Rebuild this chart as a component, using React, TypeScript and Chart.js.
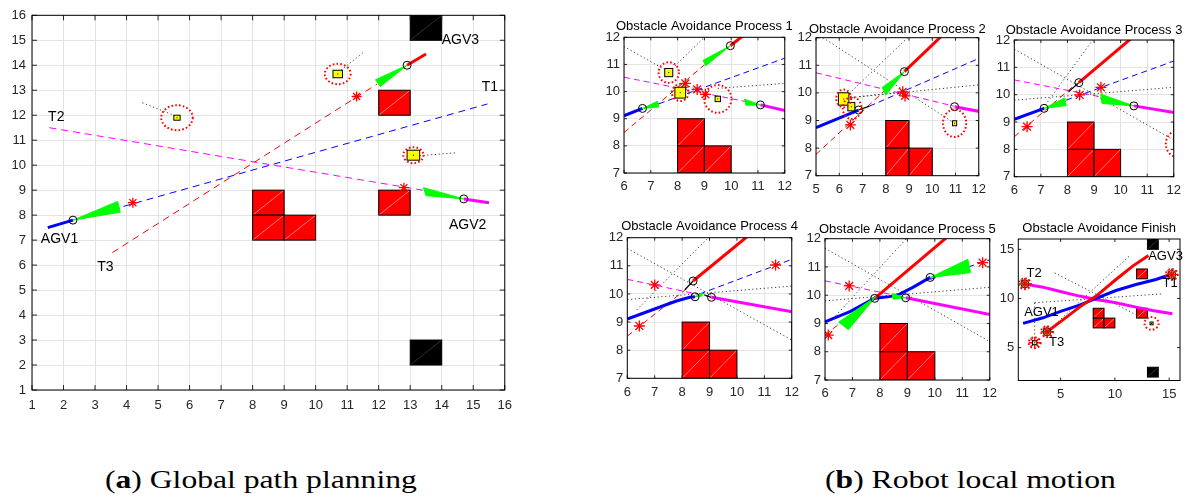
import React, { useEffect, useRef } from "react";
import { Chart, registerables } from "chart.js";

Chart.register(...registerables);

type Pt = [number, number];
type Seg = [number, number, number, number];
type Rect = [number, number, number, number];
type Tri = [Pt, Pt, Pt];
type Mover = [number, number, number];
type Ring = [number, number, number];
type Label = [string, number, number];

const FONT = '"Liberation Sans", Arial, sans-serif';

// ---------------- shared map ----------------
const redObstacles: Rect[] = [[8, 8, 9, 9], [8, 7, 9, 8], [9, 7, 10, 8], [12, 12, 13, 13], [12, 8, 13, 9]];
const blackObstacles: Rect[] = [[13, 15, 14, 16], [13, 2, 14, 3]];

// ---------------- (a) global path planning ----------------
const aTicks = [1, 2, 3, 4, 5, 6, 7, 8, 9, 10, 11, 12, 13, 14, 15, 16];
const aBluePath: Pt[] = [[1.5, 7.5], [2.3, 7.8]];
const aMagentaPath: Pt[] = [[14.7, 8.65], [15.5, 8.5]];
const aRedPath: Pt[] = [[12.9, 14.0], [13.5, 14.45]];
const aBlueDash: Pt[] = [[3.9, 8.35], [15.45, 12.45]];
const aMagentaDash: Pt[] = [[1.55, 11.5], [13.4, 9.0]];
const aRedDash: Pt[] = [[3.55, 6.5], [11.95, 13.25]];
const aWedges: Tri[] = [
  [[2.3, 7.8], [3.72, 8.55], [3.8, 8.12]],
  [[12.9, 14.0], [11.9, 13.42], [12.05, 13.15]],
  [[14.7, 8.65], [13.42, 9.1], [13.5, 8.78]],
];
const aRobots: Pt[] = [[2.3, 7.8], [12.9, 14.0], [14.7, 8.65]];
const aStars: Pt[] = [[4.2, 8.5], [11.3, 12.75], [12.8, 9.1]];
const aMovers: Mover[] = [[5.6, 11.9, 0.2], [10.7, 13.65, 0.3], [13.1, 10.4, 0.4]];
const aRings: Ring[] = [[5.6, 11.9, 0.5], [10.7, 13.65, 0.41], [13.1, 10.4, 0.32]];
const aDotted: Seg[] = [[4.5, 12.5, 5.5, 12.0], [10.8, 13.8, 11.5, 14.5], [13.3, 10.38, 14.5, 10.5]];
const aLabels: Label[] = [["AGV3", 14.0, 15.0], ["T1", 15.27, 13.12], ["T2", 1.51, 11.92], ["AGV1", 1.28, 7.04], ["T3", 3.07, 5.9], ["AGV2", 14.23, 7.58]];

// ---------------- (b) local motion ----------------
const bXTicks = [6, 7, 8, 9, 10, 11, 12];
const b2XTicks = [5, 6, 7, 8, 9, 10, 11, 12];
const bYTicks = [7, 8, 9, 10, 11, 12];
const b6Ticks = [5, 10, 15];

// process 1
const b1BluePath: Pt[] = [[6, 9.11], [6.69, 9.38]];
const b1MagentaPath: Pt[] = [[11.09, 9.51], [12.2, 9.26]];
const b1RedPath: Pt[] = [[9.97, 11.69], [10.5, 12.1]];
const b1BlueDash: Pt[] = [[7.3, 9.55], [12, 11.23]];
const b1MagentaDash: Pt[] = [[6, 10.53], [10.55, 9.63]];
const b1RedDash: Pt[] = [[6, 8.49], [9.0, 10.98]];
const b1Wedges: Tri[] = [
  [[6.69, 9.38], [7.25, 9.64], [7.3, 9.43]],
  [[11.09, 9.51], [10.5, 9.72], [10.55, 9.5]],
  [[9.97, 11.69], [8.95, 11.15], [9.05, 10.95]],
];
const b1Robots: Pt[] = [[6.69, 9.38], [11.09, 9.51], [9.97, 11.69]];
const b1Stars: Pt[] = [[8.29, 10.3], [8.73, 10.08], [9.04, 9.9]];
const b1Movers: Mover[] = [[7.67, 10.7, 0.3], [8.1, 9.96, 0.4], [9.5, 9.73, 0.2]];
const b1Rings: Ring[] = [[7.67, 10.7, 0.38], [8.1, 9.96, 0.31], [9.5, 9.73, 0.51]];
const b1Dotted: Seg[] = [[6, 11.66, 7.67, 10.73], [7.8, 10.85, 9.0, 12.0], [9.5, 10.12, 12, 10.3], [8.3, 10.25, 9.0, 9.95]];

// process 2
const b2BluePath: Pt[] = [[5, 8.74], [6.83, 9.38]];
const b2MagentaPath: Pt[] = [[10.96, 9.5], [12.2, 9.3]];
const b2RedPath: Pt[] = [[8.8, 10.77], [10.45, 12.1]];
const b2BlueDash: Pt[] = [[7.3, 9.52], [12, 11.25]];
const b2MagentaDash: Pt[] = [[5, 10.73], [10.93, 9.52]];
const b2RedDash: Pt[] = [[5, 7.77], [7.95, 10.08]];
const b2Links: Seg[] = [[6.83, 9.38, 7.3, 9.52]];
const b2Wedges: Tri[] = [[[8.8, 10.77], [7.85, 10.2], [8.0, 9.92]]];
const b2Robots: Pt[] = [[6.83, 9.38], [8.8, 10.77], [10.96, 9.5]];
const b2Stars: Pt[] = [[8.73, 10.04], [8.83, 9.89], [6.48, 8.84]];
const b2Movers: Mover[] = [[6.19, 9.78, 0.45], [6.52, 9.5, 0.3], [10.96, 8.9, 0.18]];
const b2Rings: Ring[] = [[6.19, 9.8, 0.32], [6.55, 9.45, 0.4], [10.96, 8.9, 0.5]];
const b2Dotted: Seg[] = [[5.3, 12, 10.96, 8.9], [6.19, 9.78, 8.94, 12], [6.88, 9.86, 12, 10.29], [6.2, 9.8, 8.8, 10.05]];

// process 3
const b3BluePath: Pt[] = [[6, 9.1], [7.12, 9.5]];
const b3MagentaPath: Pt[] = [[10.5, 9.59], [12.2, 9.32]];
const b3RedPath: Pt[] = [[8.43, 10.44], [10.45, 12.1]];
const b3BlueDash: Pt[] = [[7.95, 9.8], [12, 11.23]];
const b3MagentaDash: Pt[] = [[6, 10.54], [9.2, 9.93]];
const b3RedDash: Pt[] = [[6, 8.46], [8.34, 10.41]];
const b3Links: Seg[] = [[8.04, 10.11, 8.43, 10.44]];
const b3Wedges: Tri[] = [
  [[7.12, 9.5], [7.9, 9.88], [7.95, 9.6]],
  [[10.5, 9.59], [9.25, 10.02], [9.3, 9.68]],
];
const b3Robots: Pt[] = [[7.12, 9.5], [8.43, 10.44], [10.5, 9.59]];
const b3Stars: Pt[] = [[8.46, 9.99], [9.26, 10.27], [6.48, 8.83]];
const b3Movers: Mover[] = [[12.2, 8.2, 0.2]];
const b3Rings: Ring[] = [[12.2, 8.2, 0.5]];
const b3Dotted: Seg[] = [[6, 11.67, 12, 8.34], [6, 9.8, 12, 10.27], [7.0, 9.4, 8.95, 12]];

// process 4
const b4BluePath: Pt[] = [[6, 9.11], [7.07, 9.49], [7.79, 9.75], [8.28, 9.88], [8.47, 9.9]];
const b4MagentaPath: Pt[] = [[9.07, 9.88], [12.2, 9.33]];
const b4RedPath: Pt[] = [[8.4, 10.46], [10.45, 12.1]];
const b4BlueDash: Pt[] = [[8.64, 10.0], [12, 11.23]];
const b4MagentaDash: Pt[] = [[6, 10.52], [9.0, 9.9]];
const b4RedDash: Pt[] = [[6, 8.5], [8.22, 10.23]];
const b4Links: Seg[] = [[8.1, 10.15, 8.4, 10.46], [8.8, 9.97, 9.07, 9.88]];
const b4Wedges: Tri[] = [[[8.47, 9.9], [8.75, 10.05], [8.72, 9.93]]];
const b4Robots: Pt[] = [[8.47, 9.9], [8.4, 10.46], [9.07, 9.88]];
const b4Stars: Pt[] = [[7.0, 10.32], [6.44, 8.86], [11.41, 11.03]];
const b4Dotted: Seg[] = [[6, 11.62, 12, 8.36], [6, 9.8, 12, 10.28], [6.34, 9.43, 8.95, 12]];

// process 5
const b5BluePath: Pt[] = [[6, 9.06], [6.91, 9.42], [7.81, 9.89], [8.36, 9.95], [8.72, 10.04], [9.2, 10.28], [9.83, 10.63]];
const b5MagentaPath: Pt[] = [[8.94, 9.91], [12.2, 9.28]];
const b5RedPath: Pt[] = [[7.81, 9.89], [10.5, 12.1]];
const b5BlueDash: Pt[] = [[9.83, 10.56], [12, 11.25]];
const b5MagentaDash: Pt[] = [[6, 10.51], [8.54, 10.0]];
const b5RedDash: Pt[] = [[6, 8.59], [6.6, 9.05]];
const b5Wedges: Tri[] = [
  [[9.83, 10.63], [11.2, 11.27], [11.3, 10.8]],
  [[7.85, 9.95], [6.5, 9.05], [6.85, 8.78]],
  [[8.94, 9.91], [8.45, 10.06], [8.48, 9.86]],
];
const b5Robots: Pt[] = [[7.81, 9.89], [8.94, 9.91], [9.83, 10.63]];
const b5Stars: Pt[] = [[6.88, 10.33], [6.12, 8.59], [11.74, 11.15]];
const b5Dotted: Seg[] = [[6, 11.66, 12, 8.36], [6, 9.8, 12, 10.28], [6.3, 9.18, 8.96, 12]];

// finish
const b6BluePath: Pt[] = [[1.54, 7.46], [3.38, 8.03], [5.06, 8.71], [6.74, 9.32], [8.27, 10], [10.1, 10.81], [11.94, 11.42], [13.78, 11.93], [15.15, 12.44]];
const b6MagentaPath: Pt[] = [[1.54, 11.49], [3.38, 11.15], [5.06, 10.68], [6.74, 10.24], [8.27, 9.9], [10.1, 9.56], [11.94, 9.12], [13.47, 8.78], [15.3, 8.44]];
const b6RedPath: Pt[] = [[3.75, 6.61], [5.06, 7.69], [6.74, 9.12], [8.27, 10.24], [10.1, 11.93], [11.64, 13.29], [13.1, 14.37]];
const b6Robots: Pt[] = [[1.7, 11.49], [15.24, 12.44], [3.75, 6.61]];
const b6Goals: Pt[] = [[1.7, 11.49], [15.24, 12.44], [3.75, 6.61]];
const b6Stars: Pt[] = [[1.7, 11.49], [15.24, 12.44], [3.75, 6.61], [2.61, 5.49]];
const b6Movers: Mover[] = [[2.61, 5.49, 0.4], [13.38, 7.46, 0.28]];
const b6Rings: Ring[] = [[1.7, 11.49, 0.55], [15.24, 12.44, 0.55], [3.75, 6.61, 0.55], [2.61, 5.49, 0.55], [13.38, 7.46, 0.65]];
const b6Dotted: Seg[] = [[4.45, 12.6, 12.2, 8.2], [2.61, 9.56, 14.39, 10.47], [2.61, 9.56, 2.61, 5.49], [3.75, 6.61, 11.48, 14.47]];
const b6Labels: Label[] = [["AGV3", 13.07, 14.3], ["T2", 1.85, 12.5], ["T1", 14.39, 11.49], ["AGV1", 1.64, 8.61], ["T3", 3.93, 5.56]];

// ---------------- generic panel ----------------
interface PanelSpec {
  box: [number, number, number, number];
  pad: [number, number, number, number];
  xRange: [number, number];
  yRange: [number, number];
  xTicks: number[];
  yTicks: number[];
  title: string;
  titleGap: number;
  grid: boolean;
  tickFont: number;
  labelFont: number;
  xPad: number;
  yPad: number;
  tickLen: number;
  pathWidth: number;
  dash: number[];
  robotR: number;
  starR: number;
  bluePath: Pt[]; magentaPath: Pt[]; redPath: Pt[];
  blueDash: Pt[]; magentaDash: Pt[]; redDash: Pt[];
  links: Seg[]; dotted: Seg[]; wedges: Tri[];
  robots: Pt[]; goals: Pt[]; stars: Pt[];
  movers: Mover[]; rings: Ring[]; labels: Label[];
}

const subBase = {
  pad: [40, 32, 12, 26] as [number, number, number, number],
  titleGap: 10.5,
  grid: true,
  tickFont: 13,
  labelFont: 13,
  xPad: 6,
  yPad: 4,
  tickLen: 3,
  pathWidth: 3,
  dash: [6, 4],
  robotR: 4,
  starR: 5.5,
  goals: [] as Pt[],
  labels: [] as Label[],
  links: [] as Seg[],
  movers: [] as Mover[],
  rings: [] as Ring[],
};

const panels: PanelSpec[] = [
  {
    box: [32, 15.3, 507, 390], pad: [32, 15, 13, 30],
    xRange: [1, 16], yRange: [1, 16], xTicks: aTicks, yTicks: aTicks,
    title: "", titleGap: 0, grid: true, tickFont: 13, labelFont: 14, xPad: 8, yPad: 6, tickLen: 5,
    pathWidth: 3, dash: [7, 5], robotR: 4, starR: 5,
    bluePath: aBluePath, magentaPath: aMagentaPath, redPath: aRedPath,
    blueDash: aBlueDash, magentaDash: aMagentaDash, redDash: aRedDash,
    links: [], dotted: aDotted, wedges: aWedges, robots: aRobots, goals: [], stars: aStars,
    movers: aMovers, rings: aRings, labels: aLabels,
  },
  {
    ...subBase, box: [624, 37.3, 786, 173], xRange: [6, 12], yRange: [7, 12], xTicks: bXTicks, yTicks: bYTicks,
    title: "Obstacle Avoidance Process 1",
    bluePath: b1BluePath, magentaPath: b1MagentaPath, redPath: b1RedPath,
    blueDash: b1BlueDash, magentaDash: b1MagentaDash, redDash: b1RedDash,
    dotted: b1Dotted, wedges: b1Wedges, robots: b1Robots, stars: b1Stars, movers: b1Movers, rings: b1Rings,
  },
  {
    ...subBase, box: [816, 37.7, 980, 175.7], xRange: [5, 12], yRange: [7, 12], xTicks: b2XTicks, yTicks: bYTicks,
    title: "Obstacle Avoidance Process 2", titleGap: 8.5,
    bluePath: b2BluePath, magentaPath: b2MagentaPath, redPath: b2RedPath,
    blueDash: b2BlueDash, magentaDash: b2MagentaDash, redDash: b2RedDash, links: b2Links,
    dotted: b2Dotted, wedges: b2Wedges, robots: b2Robots, stars: b2Stars, movers: b2Movers, rings: b2Rings,
  },
  {
    ...subBase, box: [1014.3, 40, 1178.3, 176.7], xRange: [6, 12], yRange: [7, 12], xTicks: bXTicks, yTicks: bYTicks,
    title: "Obstacle Avoidance Process 3", titleGap: 10, pad: [40, 32, 8, 26],
    bluePath: b3BluePath, magentaPath: b3MagentaPath, redPath: b3RedPath,
    blueDash: b3BlueDash, magentaDash: b3MagentaDash, redDash: b3RedDash, links: b3Links,
    dotted: b3Dotted, wedges: b3Wedges, robots: b3Robots, stars: b3Stars, movers: b3Movers, rings: b3Rings,
  },
  {
    ...subBase, box: [627.3, 237.7, 792.3, 378.3], xRange: [6, 12], yRange: [7, 12], xTicks: bXTicks, yTicks: bYTicks,
    title: "Obstacle Avoidance Process 4", titleGap: 11,
    bluePath: b4BluePath, magentaPath: b4MagentaPath, redPath: b4RedPath,
    blueDash: b4BlueDash, magentaDash: b4MagentaDash, redDash: b4RedDash, links: b4Links,
    dotted: b4Dotted, wedges: b4Wedges, robots: b4Robots, stars: b4Stars,
  },
  {
    ...subBase, box: [825, 238.7, 990.3, 380], xRange: [6, 12], yRange: [7, 12], xTicks: bXTicks, yTicks: bYTicks,
    title: "Obstacle Avoidance Process 5", titleGap: 9.4,
    bluePath: b5BluePath, magentaPath: b5MagentaPath, redPath: b5RedPath,
    blueDash: b5BlueDash, magentaDash: b5MagentaDash, redDash: b5RedDash,
    dotted: b5Dotted, wedges: b5Wedges, robots: b5Robots, stars: b5Stars,
  },
  {
    ...subBase, box: [1018.3, 239, 1180, 380.5], xRange: [1.1, 16], yRange: [1.65, 16.05], xTicks: b6Ticks, yTicks: b6Ticks,
    title: "Obstacle Avoidance Finish", titleGap: 10.7, grid: false, pad: [40, 32, 10, 26], starR: 6,
    bluePath: b6BluePath, magentaPath: b6MagentaPath, redPath: b6RedPath,
    blueDash: [], magentaDash: [], redDash: [],
    dotted: b6Dotted, wedges: [], robots: b6Robots, goals: b6Goals, stars: b6Stars,
    movers: b6Movers, rings: b6Rings, labels: b6Labels,
  },
];

function geometry(s: PanelSpec) {
  const [pl, pt, pr, pb] = s.box;
  const [ml, mt, mr, mb] = s.pad;
  const left = Math.floor(pl - ml);
  const top = Math.floor(pt - mt);
  const right = Math.ceil(pr + mr);
  const bottom = Math.ceil(pb + mb);
  return {
    left, top, width: right - left, height: bottom - top,
    yAxisW: pl - left, padTop: pt - top, padRight: right - pr, xAxisH: bottom - pb,
  };
}

const xy = (pts: Pt[]) => pts.map(([x, y]) => ({ x, y }));
const segXY = (s: Seg) => [{ x: s[0], y: s[1] }, { x: s[2], y: s[3] }];

function lineDs(data: { x: number; y: number }[], color: string, width: number, dash: number[] = []) {
  return {
    data, showLine: true, borderColor: color, backgroundColor: color, borderWidth: width, borderDash: dash,
    pointRadius: 0, pointHoverRadius: 0, pointHitRadius: 0, fill: false, tension: 0,
  };
}

function Panel({ spec }: { spec: PanelSpec }) {
  const ref = useRef<HTMLCanvasElement | null>(null);
  const g = geometry(spec);

  useEffect(() => {
    if (!ref.current) return;
    const s = spec;
    const datasets: any[] = [
      {
        data: xy(s.stars), showLine: false, pointStyle: "star", pointRadius: s.starR,
        pointBorderColor: "#ff0000", pointBackgroundColor: "#ff0000", pointBorderWidth: 1.3,
      },
      {
        data: xy(s.goals), showLine: false, pointStyle: "circle", pointRadius: 2.8,
        pointBorderColor: "#00cc00", pointBackgroundColor: "#00ff00", pointBorderWidth: 0.5,
      },
      {
        data: xy(s.robots), showLine: false, pointStyle: "circle", pointRadius: s.robotR,
        pointBorderColor: "#000000", pointBackgroundColor: "rgba(0,0,0,0)", pointBorderWidth: 1,
      },
      lineDs(xy(s.redPath), "#ff0000", s.pathWidth),
      lineDs(xy(s.bluePath), "#0000ff", s.pathWidth),
      lineDs(xy(s.magentaPath), "#ff00ff", s.pathWidth),
      ...s.links.map((l) => lineDs(segXY(l), "#000000", 1.2)),
      lineDs(xy(s.redDash), "#ff0000", 1, s.dash),
      lineDs(xy(s.blueDash), "#0000ff", 1, s.dash),
      lineDs(xy(s.magentaDash), "#ff00ff", 1, s.dash),
      ...s.dotted.map((d) => lineDs(segXY(d), "#3a3a3a", 1, [1.2, 2.6])),
    ];

    const clipArea = (ctx: CanvasRenderingContext2D, a: any) => {
      ctx.beginPath();
      ctx.rect(a.left, a.top, a.right - a.left, a.bottom - a.top);
      ctx.clip();
    };

    const mapPlugin = {
      id: "mapLayer",
      beforeDatasetsDraw(chart: any) {
        const { ctx, chartArea: a } = chart;
        const X = (v: number) => chart.scales.x.getPixelForValue(v);
        const Y = (v: number) => chart.scales.y.getPixelForValue(v);
        ctx.save();
        clipArea(ctx, a);
        const drawRects = (list: Rect[], fill: string, diag: string) => {
          for (const [x0, y0, x1, y1] of list) {
            const l = X(x0), r = X(x1), t = Y(y1), b = Y(y0);
            ctx.fillStyle = fill;
            ctx.fillRect(l, t, r - l, b - t);
            ctx.strokeStyle = diag;
            ctx.lineWidth = 0.8;
            ctx.beginPath();
            ctx.moveTo(l, b);
            ctx.lineTo(r, t);
            ctx.stroke();
            ctx.strokeStyle = "#000000";
            ctx.lineWidth = 1;
            ctx.strokeRect(l, t, r - l, b - t);
          }
        };
        drawRects(redObstacles, "#ff0000", "#ff9a9a");
        drawRects(blackObstacles, "#000000", "#3c3c3c");
        ctx.restore();
      },
      beforeDatasetDraw(chart: any, args: any) {
        if (args.index !== 2) return;
        const { ctx, chartArea: a } = chart;
        const X = (v: number) => chart.scales.x.getPixelForValue(v);
        const Y = (v: number) => chart.scales.y.getPixelForValue(v);
        ctx.save();
        clipArea(ctx, a);
        ctx.fillStyle = "#00ff00";
        ctx.strokeStyle = "#00ff00";
        ctx.lineWidth = 1;
        ctx.lineJoin = "round";
        for (const tri of s.wedges) {
          ctx.beginPath();
          tri.forEach(([x, y], i) => (i === 0 ? ctx.moveTo(X(x), Y(y)) : ctx.lineTo(X(x), Y(y))));
          ctx.closePath();
          ctx.fill();
          ctx.stroke();
        }
        ctx.restore();
      },
      afterDatasetsDraw(chart: any) {
        const { ctx, chartArea: a } = chart;
        const X = (v: number) => chart.scales.x.getPixelForValue(v);
        const Y = (v: number) => chart.scales.y.getPixelForValue(v);
        ctx.save();
        clipArea(ctx, a);
        for (const [x, y, size] of s.movers) {
          const l = X(x - size / 2), r = X(x + size / 2), t = Y(y + size / 2), b = Y(y - size / 2);
          ctx.fillStyle = "#ffff00";
          ctx.fillRect(l, t, r - l, b - t);
          ctx.strokeStyle = "#000000";
          ctx.lineWidth = 1;
          ctx.strokeRect(l, t, r - l, b - t);
          ctx.fillStyle = "#000000";
          ctx.fillRect(X(x) - 0.5, Y(y) - 0.5, 1, 1);
        }
        ctx.strokeStyle = "#ff0000";
        ctx.lineWidth = 2;
        ctx.setLineDash([1.6, 2.2]);
        for (const [x, y, r] of s.rings) {
          const rx = Math.abs(X(x + r) - X(x));
          const ry = Math.abs(Y(y + r) - Y(y));
          ctx.beginPath();
          ctx.ellipse(X(x), Y(y), rx, ry, 0, 0, Math.PI * 2);
          ctx.stroke();
        }
        ctx.restore();
        ctx.save();
        ctx.fillStyle = "#000000";
        ctx.font = `${s.labelFont}px ${FONT}`;
        ctx.textAlign = "left";
        ctx.textBaseline = "middle";
        for (const [txt, x, y] of s.labels) ctx.fillText(txt, X(x), Y(y));
        ctx.restore();
      },
      afterDraw(chart: any) {
        const { ctx, chartArea: a } = chart;
        const X = (v: number) => chart.scales.x.getPixelForValue(v);
        const Y = (v: number) => chart.scales.y.getPixelForValue(v);
        ctx.save();
        ctx.strokeStyle = "#262626";
        ctx.lineWidth = 1;
        ctx.beginPath();
        for (const v of s.xTicks) {
          const px = X(v);
          ctx.moveTo(px, a.bottom);
          ctx.lineTo(px, a.bottom - s.tickLen);
          ctx.moveTo(px, a.top);
          ctx.lineTo(px, a.top + s.tickLen);
        }
        for (const v of s.yTicks) {
          const py = Y(v);
          ctx.moveTo(a.left, py);
          ctx.lineTo(a.left + s.tickLen, py);
          ctx.moveTo(a.right, py);
          ctx.lineTo(a.right - s.tickLen, py);
        }
        ctx.stroke();
        ctx.strokeStyle = "#000000";
        ctx.strokeRect(a.left, a.top, a.right - a.left, a.bottom - a.top);
        if (s.title) {
          ctx.fillStyle = "#000000";
          ctx.font = `${s.tickFont}px ${FONT}`;
          ctx.textAlign = "center";
          ctx.textBaseline = "middle";
          ctx.fillText(s.title, (a.left + a.right) / 2, a.top - s.titleGap);
        }
        ctx.restore();
      },
    };

    const axis = (range: [number, number], ticks: number[], horizontal: boolean) => ({
      type: "linear" as const,
      min: range[0],
      max: range[1],
      afterBuildTicks: (ax: any) => {
        ax.ticks = ticks.map((v) => ({ value: v }));
      },
      afterFit: (ax: any) => {
        if (horizontal) ax.height = g.xAxisH;
        else ax.width = g.yAxisW;
      },
      grid: { display: s.grid, color: "#e4e4e4", lineWidth: 1, drawTicks: false },
      border: { display: false },
      ticks: {
        font: { family: FONT, size: s.tickFont },
        color: "#262626",
        padding: horizontal ? s.xPad : s.yPad,
        maxRotation: 0,
        autoSkip: false,
        callback: (v: any) => String(v),
      },
    });

    const chart = new Chart(ref.current, {
      type: "scatter",
      data: { datasets },
      options: {
        responsive: false,
        animation: false,
        devicePixelRatio: 1,
        events: [],
        layout: { padding: { left: 0, top: g.padTop, right: g.padRight, bottom: 0 } },
        plugins: { legend: { display: false }, tooltip: { enabled: false }, title: { display: false } },
        scales: {
          x: { ...axis(s.xRange, s.xTicks, true), position: "bottom" },
          y: { ...axis(s.yRange, s.yTicks, false), position: "left" },
        },
      } as any,
      plugins: [mapPlugin as any],
    });
    return () => chart.destroy();
  }, [spec]);

  return (
    <canvas
      ref={ref}
      width={g.width}
      height={g.height}
      style={{ position: "absolute", left: g.left, top: g.top, width: g.width, height: g.height }}
    />
  );
}

const captionStyle: React.CSSProperties = {
  position: "absolute",
  top: 467,
  font: '25px "Liberation Serif", "Times New Roman", serif',
  lineHeight: "25px",
  whiteSpace: "nowrap",
  transform: "scaleX(1.265)",
  transformOrigin: "left top",
  color: "#000",
};

export default function App() {
  return (
    <div style={{ position: "absolute", left: 0, top: 0, width: 1195, height: 497, background: "#fff", overflow: "hidden" }}>
      {panels.map((p, i) => (
        <Panel key={i} spec={p} />
      ))}
      <div style={{ ...captionStyle, left: 105 }}>
        (<b>a</b>) Global path planning
      </div>
      <div style={{ ...captionStyle, left: 825 }}>
        (<b>b</b>) Robot local motion
      </div>
    </div>
  );
}
